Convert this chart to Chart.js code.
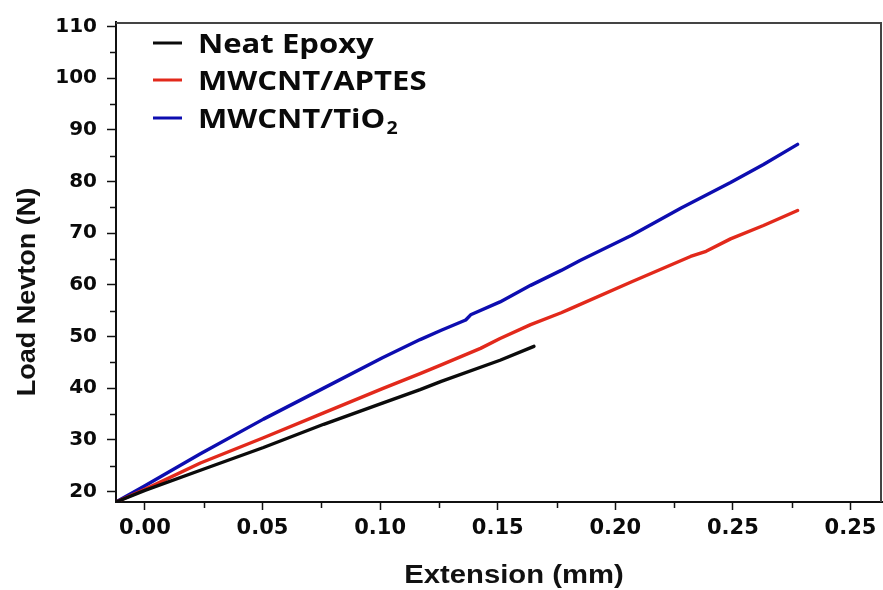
<!DOCTYPE html>
<html>
<head>
<meta charset="utf-8">
<script src="https://cdn.jsdelivr.net/npm/chart.js@4.4.1/dist/chart.umd.min.js"></script>
<style>
  html, body { margin: 0; padding: 0; background: #ffffff; }
  #wrap { width: 883px; height: 590px; }
</style>
</head>
<body>
<div id="wrap"><canvas id="c" width="883" height="590"></canvas></div>
<script>
// Load–extension curves of the three epoxy samples
const seriesLabels = ['Neat Epoxy', 'MWCNT/APTES', 'MWCNT/TiO₂'];

const extNeat  = [-0.0123, 0.000, 0.0236, 0.0504, 0.076, 0.101, 0.117, 0.126, 0.151, 0.1654];
const loadNeat = [17.95, 20.2, 24.1, 28.5, 33.0, 37.1, 39.7, 41.3, 45.4, 48.1];

const extAptes  = [-0.0123, 0.000, 0.0236, 0.0504, 0.076, 0.101, 0.117, 0.126, 0.1427, 0.151, 0.164, 0.177, 0.181, 0.207, 0.232, 0.2386, 0.249, 0.263, 0.2775];
const loadAptes = [17.95, 20.4, 25.5, 30.4, 35.2, 39.9, 42.8, 44.5, 47.7, 49.6, 52.3, 54.6, 55.4, 60.6, 65.5, 66.5, 68.9, 71.5, 74.4];

const extTio2  = [-0.0123, 0.000, 0.0236, 0.0504, 0.076, 0.101, 0.117, 0.126, 0.1364, 0.1385, 0.151, 0.164, 0.177, 0.185, 0.207, 0.228, 0.249, 0.263, 0.2775];
const loadTio2 = [17.95, 21.1, 27.3, 34.0, 40.0, 45.9, 49.4, 51.2, 53.2, 54.2, 56.7, 59.9, 62.8, 64.7, 69.6, 74.9, 79.8, 83.3, 87.2];

// Axis ticks
const xTickValues = [0.00, 0.05, 0.10, 0.15, 0.20, 0.25, 0.30];
const xTickLabels = ['0.00', '0.05', '0.10', '0.15', '0.20', '0.25', '0.25'];
const xMinorTicks = [0.025, 0.075, 0.125, 0.175, 0.225, 0.275];
const yTickValues = [20, 30, 40, 50, 60, 70, 80, 90, 100, 110];
const yMinorTicks = [25, 35, 45, 55, 65, 75, 85, 95, 105];

const xTitle = 'Extension (mm)';
const yTitle = 'Load Nevton (N)';

const colors = ['#0b0b0b', '#e2291b', '#0d0db0'];

function toPoints(xs, ys) {
  return xs.map((x, i) => ({ x: x, y: ys[i] }));
}

// Draws the frame, minor ticks, axis titles and the legend
const decorations = {
  id: 'decorations',
  afterDraw(chart) {
    const ctx = chart.ctx;
    const a = chart.chartArea;
    const xs = chart.scales.x, ys = chart.scales.y;
    ctx.save();

    // top and right frame lines
    ctx.strokeStyle = '#444';
    ctx.lineWidth = 2;
    ctx.beginPath();
    ctx.moveTo(a.left, a.top + 1);
    ctx.lineTo(a.right - 1, a.top + 1);
    ctx.lineTo(a.right - 1, a.bottom);
    ctx.stroke();

    // minor ticks
    ctx.strokeStyle = '#111';
    ctx.lineWidth = 1.5;
    ctx.beginPath();
    yMinorTicks.forEach(v => {
      const py = Math.round(ys.getPixelForValue(v)) + 0.5;
      ctx.moveTo(a.left - 6, py);
      ctx.lineTo(a.left, py);
    });
    xMinorTicks.forEach(v => {
      const px = Math.round(xs.getPixelForValue(v)) + 0.5;
      ctx.moveTo(px, a.bottom);
      ctx.lineTo(px, a.bottom + 6);
    });
    ctx.stroke();

    // axis titles
    ctx.fillStyle = '#111';
    ctx.textAlign = 'center';
    ctx.textBaseline = 'alphabetic';
    ctx.font = 'bold 25px "Liberation Sans", Arial, sans-serif';
    ctx.save();
    ctx.translate(514, 583);
    ctx.scale(1.17, 1);
    ctx.fillText(xTitle, 0, 0);
    ctx.restore();

    ctx.save();
    ctx.translate(35, 292);
    ctx.rotate(-Math.PI / 2);
    ctx.scale(1.08, 1);
    ctx.fillText(yTitle, 0, 0);
    ctx.restore();

    // legend
    const rows = [43, 80, 118];
    chart.data.datasets.forEach((ds, i) => {
      const cy = rows[i];
      ctx.strokeStyle = ds.borderColor;
      ctx.lineWidth = 3;
      ctx.beginPath();
      ctx.moveTo(153, cy);
      ctx.lineTo(182, cy);
      ctx.stroke();

      ctx.save();
      ctx.translate(198, cy + 10);
      ctx.scale(1.15, 1);
      ctx.fillStyle = '#0a0a0a';
      ctx.textAlign = 'left';
      ctx.font = 'bold 27px "Open Sans", "Noto Sans", sans-serif';
      const label = ds.label;
      const k = label.indexOf('₂');
      if (k >= 0) {
        const main = label.slice(0, k);
        ctx.fillText(main, 0, 0);
        const w = ctx.measureText(main).width;
        ctx.font = 'bold 17px "Open Sans", "Noto Sans", sans-serif';
        ctx.fillText('2', w + 1, 6);
      } else {
        ctx.fillText(label, 0, 0);
      }
      ctx.restore();
    });

    ctx.restore();
  }
};

const datasetSpecs = [
  [extNeat, loadNeat],
  [extAptes, loadAptes],
  [extTio2, loadTio2]
];

new Chart(document.getElementById('c'), {
  type: 'scatter',
  data: {
    datasets: datasetSpecs.map((s, i) => ({
      label: seriesLabels[i],
      data: toPoints(s[0], s[1]),
      showLine: true,
      borderColor: colors[i],
      backgroundColor: colors[i],
      borderWidth: 3.4,
      pointRadius: 0,
      tension: 0,
      borderJoinStyle: 'round',
      borderCapStyle: 'round'
    }))
  },
  options: {
    responsive: false,
    animation: false,
    devicePixelRatio: 1,
    layout: { padding: { top: 16, right: 1, left: 0, bottom: 0 } },
    plugins: {
      legend: { display: false },
      tooltip: { enabled: false },
      title: { display: false }
    },
    scales: {
      x: {
        type: 'linear',
        min: -0.0123,
        max: 0.3134,
        afterFit: s => { s.height = 88; },
        afterBuildTicks: s => { s.ticks = xTickValues.map(v => ({ value: v })); },
        ticks: {
          callback: (v, i) => xTickLabels[i],
          font: { family: 'DejaVu Sans', weight: 'bold', size: 21 },
          color: '#0a0a0a',
          padding: 6,
          maxRotation: 0,
          autoSkip: false
        },
        grid: {
          drawOnChartArea: false,
          drawTicks: true,
          tickLength: 8,
          tickColor: '#111',
          tickWidth: 1.5
        },
        border: { display: true, color: '#111', width: 2 }
      },
      y: {
        type: 'linear',
        min: 17.95,
        max: 110.9,
        afterFit: s => { s.width = 116; },
        afterBuildTicks: s => { s.ticks = yTickValues.map(v => ({ value: v })); },
        ticks: {
          callback: v => String(v),
          font: { family: 'DejaVu Sans', weight: 'bold', size: 20 },
          color: '#0a0a0a',
          padding: 10,
          autoSkip: false
        },
        grid: {
          drawOnChartArea: false,
          drawTicks: true,
          tickLength: 9,
          tickColor: '#111',
          tickWidth: 1.5
        },
        border: { display: true, color: '#111', width: 2 }
      }
    }
  },
  plugins: [decorations]
});
</script>
</body>
</html>
